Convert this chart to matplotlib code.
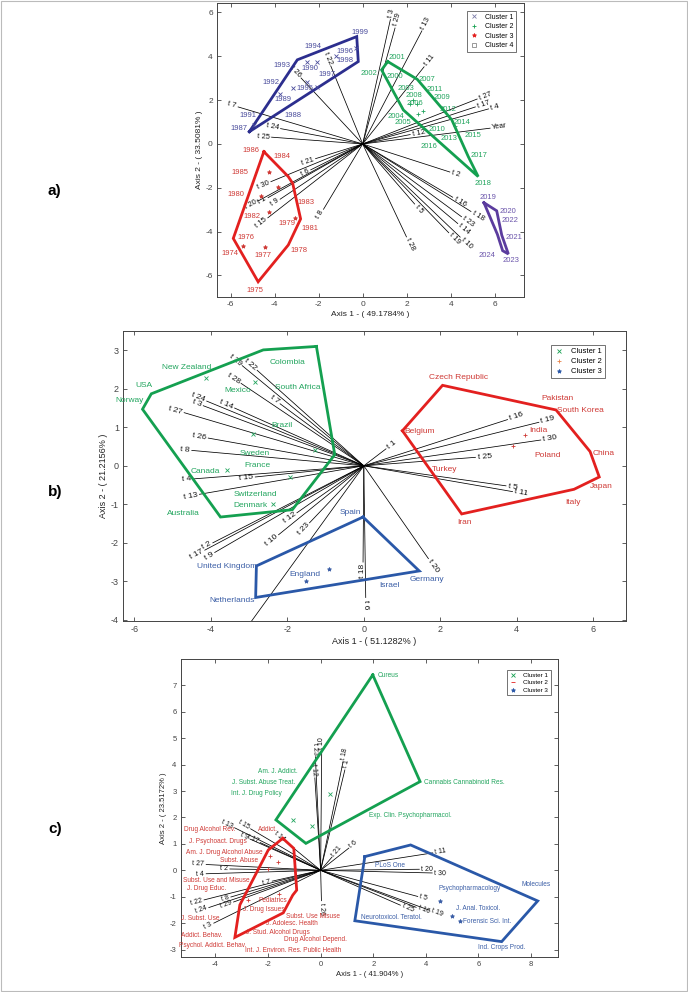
import matplotlib
matplotlib.use('Agg')
import matplotlib.pyplot as plt
from matplotlib.lines import Line2D
from matplotlib.patches import Rectangle
import numpy as np

plt.rcParams['font.family'] = ['Liberation Sans', 'DejaVu Sans']
plt.rcParams['axes.unicode_minus'] = False

#-----------------------------------------------------------------------------------------------------------------------
# Panel a) years
a_vec_names = ['t 7', 't 24', 't 25', 't 26', 't 22', 't 3', 't 29', 't 13', 't 11', 't 27', 't 17', 't 4', 'Year',
               't 12', 't 21', 't 6', 't 30', 't 20', 't 1', 't 9', 't 15', 't 8', 't 2', 't 16', 't 18', 't 5',
               't 23', 't 14', 't 19', 't 10', 't 28']
a_vec_x = [-5.66, -3.73, -4.14, -2.80, -1.45, 1.26, 1.47, 2.69, 2.79, 5.20, 5.12, 5.72, 5.79,
           2.16, -2.14, -2.36, -4.17, -4.75, -4.30, -3.75, -4.31, -1.78, 3.96, 4.09, 4.92, 2.36,
           4.49, 4.32, 3.91, 4.43, 1.99]
a_vec_y = [1.69, 0.70, 0.31, 3.01, 3.56, 5.68, 5.29, 5.16, 3.52, 2.05, 1.69, 1.60, 0.72,
           0.43, -0.67, -1.18, -1.72, -2.60, -2.45, -2.52, -3.37, -2.98, -1.28, -2.43, -3.08, -2.74,
           -3.32, -3.63, -4.05, -4.25, -4.24]

a_c1_names = ['1994', '1999', '1996', '1998', '1993', '1990', '1997', '1992', '1995', '1989', '1988', '1991', '1987']
a_c1_x = [-2.25, -0.12, -0.80, -0.80, -3.68, -2.40, -1.64, -4.18, -2.62, -3.64, -3.18, -5.23, -5.60]
a_c1_y = [4.47, 5.10, 4.21, 3.79, 3.59, 3.46, 3.16, 2.80, 2.54, 2.04, 1.32, 1.28, 0.72]
a_c1_px = [-2.55, -2.09, -3.15, -2.55, -2.09, -3.76, -0.30, -1.20, -4.95]
a_c1_py = [3.73, 3.73, 2.56, 2.84, 2.59, 2.28, 4.40, 4.00, 0.85]
a_c1_hull_x = [-5.15, -2.97, -0.27, -0.20]
a_c1_hull_y = [0.56, 3.84, 4.90, 3.76]

a_c2_names = ['2001', '2002', '2000', '2007', '2003', '2011', '2008', '2009', '2006', '2012', '2004', '2005', '2014',
              '2010', '2013', '2015', '2016', '2017', '2018']
a_c2_x = [1.55, 0.30, 1.47, 2.94, 1.97, 3.29, 2.33, 3.59, 2.38, 3.89, 1.51, 1.85, 4.50, 3.39, 3.94, 5.00, 3.03, 5.30, 5.45]
a_c2_y = [3.96, 3.20, 3.07, 2.95, 2.54, 2.47, 2.21, 2.10, 1.83, 1.58, 1.25, 0.97, 0.97, 0.67, 0.26, 0.37, -0.12, -0.53, -1.79]
a_c2_px = [2.15, 2.45, 2.53, 2.75, 2.30, 4.20]
a_c2_py = [1.83, 1.83, 1.37, 1.52, 2.00, 0.80]
a_c2_hull_x = [1.14, 2.48, 4.05, 4.80, 5.25, 1.85, 0.86]
a_c2_hull_y = [3.76, 2.95, 1.10, -0.58, -1.49, 1.55, 3.38]

a_c3_names = ['1986', '1984', '1985', '1980', '1983', '1982', '1979', '1981', '1976', '1974', '1977', '1978', '1975']
a_c3_x = [-5.09, -3.68, -5.58, -5.76, -2.58, -5.05, -3.45, -2.40, -5.30, -6.03, -4.55, -2.88, -4.90]
a_c3_y = [-0.32, -0.58, -1.29, -2.30, -2.66, -3.32, -3.62, -3.88, -4.28, -5.02, -5.07, -4.84, -6.67]
a_c3_px = [-4.27, -3.84, -4.64, -4.27, -3.08, -5.45, -4.43]
a_c3_py = [-1.29, -1.98, -2.36, -3.09, -3.36, -4.66, -4.72]
a_c3_hull_x = [-4.49, -3.38, -3.18, -2.82, -3.38, -4.75, -5.88]
a_c3_hull_y = [-0.35, -1.49, -1.80, -3.42, -4.61, -6.29, -4.31]

a_c4_names = ['2019', '2020', '2022', '2021', '2024', '2023']
a_c4_x = [5.71, 6.62, 6.70, 6.88, 5.66, 6.73]
a_c4_y = [-2.45, -3.09, -3.51, -4.26, -5.11, -5.34]
a_c4_hull_x = [5.51, 6.09, 6.32, 6.62, 6.36, 6.12, 5.51]
a_c4_hull_y = [-2.68, -3.05, -4.16, -5.02, -4.87, -4.12, -2.68]

#-----------------------------------------------------------------------------------------------------------------------
# Panel b) countries
b_vec_names = ['t 29', 't 22', 't 28', 't 7', 't 24', 't 14', 't 3', 't 27', 't 26', 't 8', 't 4', 't 15', 't 13',
               't 12', 't 23', 't 10', 't 2', 't 17', 't 9', 't 18', 't 6', 't 1', 't 16', 't 19', 't 30', 't 25',
               't 5', 't 11', 't 20', '']
b_vec_x = [-3.18, -2.79, -3.21, -2.19, -4.11, -3.38, -4.20, -4.70, -4.07, -4.50, -4.46, -2.84, -4.30,
           -1.75, -1.42, -2.23, -3.95, -4.16, -3.90, -0.02, 0.05, 0.58, 3.76, 4.58, 4.63, 2.92,
           3.72, 3.89, 1.69, -2.95]
b_vec_y = [2.60, 2.48, 2.14, 1.61, 1.68, 1.50, 1.56, 1.38, 0.72, 0.40, -0.34, -0.29, -0.74,
           -1.22, -1.48, -1.79, -2.00, -2.19, -2.25, -2.50, -3.42, 0.44, 1.20, 1.13, 0.67, 0.22,
           -0.52, -0.67, -2.41, -4.05]

b_c1_names = ['Colombia', 'New Zealand', 'USA', 'Norway', 'South Africa', 'Mexico', 'Brazil', 'Sweden', 'France',
              'Canada', 'Switzerland', 'Denmark', 'Australia']
b_c1_x = [-2.00, -4.64, -5.75, -6.13, -1.72, -3.29, -2.13, -2.85, -2.78, -4.14, -2.83, -2.97, -4.71]
b_c1_y = [2.69, 2.56, 2.09, 1.69, 2.04, 1.95, 1.04, 0.33, 0.00, -0.15, -0.74, -1.03, -1.25]
b_c1_px = [-4.12, -2.85, -2.90, -1.28, -3.57, -1.92, -2.37]
b_c1_py = [2.28, 2.17, 0.83, 0.42, -0.12, -0.28, -0.99]
b_c1_hull_x = [-1.24, -0.76, -1.87, -3.75, -5.79, -5.56, -2.63]
b_c1_hull_y = [3.10, 0.29, -1.14, -1.33, 1.47, 1.87, 3.01]

b_c2_names = ['Czech Republic', 'Pakistan', 'South Korea', 'Belgium', 'India', 'Poland', 'China', 'Turkey', 'Japan',
              'Italy', 'Iran']
b_c2_x = [2.47, 5.06, 5.67, 1.45, 4.56, 4.82, 6.27, 2.12, 6.22, 5.48, 2.64]
b_c2_y = [2.29, 1.74, 1.44, 0.89, 0.92, 0.26, 0.33, -0.10, -0.55, -0.94, -1.47]
b_c2_px = [4.21, 3.91]
b_c2_py = [0.81, 0.52]
b_c2_hull_x = [1.01, 2.06, 5.03, 5.92, 6.16, 5.50, 2.56]
b_c2_hull_y = [0.91, 2.09, 1.45, 0.37, -0.29, -0.61, -1.25]

b_c3_names = ['Spain', 'United Kingdom', 'England', 'Netherlands', 'Israel', 'Germany']
b_c3_x = [-0.34, -3.57, -1.54, -3.46, 0.66, 1.64]
b_c3_y = [-1.21, -2.62, -2.83, -3.50, -3.12, -2.94]
b_c3_px = [-0.91, -1.52]
b_c3_py = [-2.68, -2.98]
b_c3_hull_x = [-0.02, 1.45, -2.83, -2.81]
b_c3_hull_y = [-1.33, -2.73, -3.42, -2.60]

#-----------------------------------------------------------------------------------------------------------------------
# Panel c) journals
c_vec_names = ['t 10', 't 23', 't 12', 't 18', 't 1', 't 13', 't 15', 't 9', 't 17', 't 14', 't 21', 't 6', 't 27',
               't 2', 't 4', 't 7', 't 8', 't 29', 't 22', 't 24', 't 3', 't 26', 't 11', 't 20', 't 30', 't 5',
               't 25', 't 16', 't 19']
c_vec_x = [0.04, -0.20, -0.22, 0.85, 0.92, -3.27, -2.66, -2.68, -2.30, -1.32, 0.43, 1.07, -4.35,
           -3.45, -4.35, -1.84, -3.41, -3.31, -4.43, -4.25, -4.06, 0.03, 4.26, 3.75, 4.24, 3.69,
           3.03, 3.63, 4.13]
c_vec_y = [4.50, 4.30, 3.50, 4.10, 3.80, 1.61, 1.57, 1.18, 1.05, 1.08, 0.50, 0.84, 0.22,
           0.05, -0.13, -0.41, -1.01, -1.20, -1.12, -1.41, -2.00, -1.15, 0.66, 0.04, -0.10, -0.99,
           -1.32, -1.40, -1.51]

c_c1_names = ['Am. J. Addict.', 'J. Subst. Abuse Treat.', 'Int. J. Drug Policy', 'Exp. Clin. Psychopharmacol.']
c_c1_x = [-1.61, -2.16, -2.46, 3.40]
c_c1_y = [3.76, 3.32, 2.89, 2.09]
c_c1_px = [0.35, -1.04, -0.34]
c_c1_py = [2.89, 1.91, 1.68]
c_c1_hull_x = [1.98, 3.78, -0.56, -1.70]
c_c1_hull_y = [7.40, 3.36, 1.02, 1.91]
c_c1_side_names = ['Cureus', 'Cannabis Cannabinoid Res.']
c_c1_side_x = [2.15, 3.94]
c_c1_side_y = [7.37, 3.32]

c_c2_names = ['Drug Alcohol Rev.', 'Addict.', 'J. Psychoact. Drugs', 'Am. J. Drug Alcohol Abuse', 'Subst. Abuse',
              'Subst. Use and Misuse', 'J. Drug Educ.', 'Pediatrics', 'J. Drug Issues', 'Subst. Use Misuse',
              'J. Subst. Use', 'J. Adolesc. Health', 'J. Stud. Alcohol Drugs', 'Addict. Behav.',
              'Drug Alcohol Depend.', 'Psychol. Addict. Behav.', 'Int. J. Environ. Res. Public Health']
c_c2_x = [-4.21, -2.02, -3.89, -3.67, -3.09, -3.98, -4.33, -1.83, -2.18, -0.30, -4.59, -1.10, -1.61, -4.52,
          -0.18, -4.12, -1.04]
c_c2_y = [1.53, 1.55, 1.08, 0.68, 0.38, -0.39, -0.68, -1.13, -1.47, -1.76, -1.82, -2.01, -2.34, -2.45,
          -2.61, -2.86, -3.05]
c_c2_px = [-1.93, -1.61, -1.99, -1.60, -2.75]
c_c2_py = [0.55, 0.33, 0.04, -0.90, -1.13]
c_c2_hull_x = [-1.44, -1.02, -0.91, -1.06, -1.42, -3.26, -3.07, -1.99]
c_c2_hull_y = [1.21, 0.83, -0.75, -0.94, -1.61, -2.54, -1.31, 0.77]

c_c3_names = ['PLoS One', 'Molecules', 'Psychopharmacology', 'J. Anal. Toxicol.', 'Neurotoxicol. Teratol.',
              'Forensic Sci. Int.', 'Ind. Crops Prod.']
c_c3_x = [2.63, 8.19, 5.68, 5.99, 2.70, 6.33, 6.88]
c_c3_y = [0.17, -0.52, -0.68, -1.44, -1.78, -1.95, -2.92]
c_c3_px = [4.54, 4.98, 5.30]
c_c3_py = [-1.15, -1.74, -1.91]
c_c3_hull_x = [1.68, 3.42, 8.25, 6.88, 1.30]
c_c3_hull_y = [0.52, 0.96, -1.16, -2.70, -1.91]

#-----------------------------------------------------------------------------------------------------------------------
GREEN = '#14a050'
GREEN_T = '#22a55e'
RED = '#e3201f'
RED_T = '#cf3a36'
NAVY = '#2c2e8e'
NAVY_T = '#4a4c9c'
PURPLE = '#5b3c9e'
PURPLE_T = '#6b55ab'
BLUE = '#2a58a8'
BLUE_T = '#3b5ea6'
FRAME = '#444444'


def setup_axes(pos, xlim, ylim, xticks, yticks, xlabel, ylabel, fs):
    ax = fig.add_axes(pos)
    ax.set_xlim(xlim)
    ax.set_ylim(ylim)
    ax.set_xticks(xticks)
    ax.set_yticks(yticks)
    ax.tick_params(direction='in', top=True, right=True, length=3, width=0.6,
                   labelsize=fs, colors=FRAME, pad=3)
    for s in ax.spines.values():
        s.set_linewidth(0.7)
        s.set_color(FRAME)
    ax.set_xlabel(xlabel, fontsize=fs, color='#222222', labelpad=2)
    ax.set_ylabel(ylabel, fontsize=fs, color='#222222', labelpad=2)
    return ax


def draw_vectors(ax, names, xs, ys, fs):
    for name, x, y in zip(names, xs, ys):
        ax.plot([0, x], [0, y], color='black', lw=0.55, zorder=2)
        if not name:
            continue
        p0 = ax.transData.transform((0, 0))
        p1 = ax.transData.transform((x, y))
        ang = np.degrees(np.arctan2(p1[1] - p0[1], p1[0] - p0[0]))
        if ang > 90:
            rot, ha = ang - 180, 'right'
        elif ang < -90:
            rot, ha = ang + 180, 'right'
        else:
            rot, ha = ang, 'left'
        off = (1.5 * np.cos(np.radians(ang)), 1.5 * np.sin(np.radians(ang)))
        ax.annotate(name, xy=(x, y), xytext=off, textcoords='offset points', rotation=rot,
                    rotation_mode='anchor', ha=ha, va='center', fontsize=fs, color='#111111', zorder=3)


def draw_cluster(ax, names, xs, ys, px, py, hx, hy, col, tcol, marker, fs, msize=3):
    ax.plot(list(hx) + [hx[0]], list(hy) + [hy[0]], color=col, lw=2.0, zorder=4, solid_joinstyle='miter')
    if len(px):
        ax.plot(px, py, ls='none', marker=marker, color=tcol, ms=msize, mew=0.6, zorder=5)
    for n, x, y in zip(names, xs, ys):
        ax.text(x, y, n, fontsize=fs, color=tcol, ha='center', va='center', zorder=6)


def add_legend(ax, entries, fs, loc_anchor):
    handles = [Line2D([], [], ls='none', marker=m, color=c, ms=3, mew=0.6, mfc=mf) for m, c, mf in entries[1]]
    leg = ax.legend(handles, entries[0], loc='upper right', bbox_to_anchor=loc_anchor, fontsize=fs,
                    frameon=True, fancybox=False, edgecolor='#333333', handlelength=1.2, handletextpad=1.0,
                    borderpad=0.4, labelspacing=0.35)
    leg.get_frame().set_linewidth(0.6)
    return leg


fig = plt.figure(figsize=(6.88, 9.92), dpi=100)
fig.patches.append(Rectangle((0.001, 0.001), 0.998, 0.998, transform=fig.transFigure, fill=False,
                             edgecolor='#bbbbbb', lw=0.8))

# a)
ax = setup_axes([0.3154, 0.7009, 0.4462, 0.2958], (-6.62, 7.33), (-6.97, 6.42),
                np.arange(-6, 7, 2), np.arange(-6, 7, 2),
                'Axis 1 - ( 49.1784% )', 'Axis 2 - ( 33.5081% )', 6)
draw_vectors(ax, a_vec_names, a_vec_x, a_vec_y, 5.5)
draw_cluster(ax, a_c1_names, a_c1_x, a_c1_y, a_c1_px, a_c1_py, a_c1_hull_x, a_c1_hull_y, NAVY, NAVY_T, 'x', 5.5)
draw_cluster(ax, a_c2_names, a_c2_x, a_c2_y, a_c2_px, a_c2_py, a_c2_hull_x, a_c2_hull_y, GREEN, GREEN_T, '+', 5.5)
draw_cluster(ax, a_c3_names, a_c3_x, a_c3_y, a_c3_px, a_c3_py, a_c3_hull_x, a_c3_hull_y, RED, RED_T, '*', 5.5)
draw_cluster(ax, a_c4_names, a_c4_x, a_c4_y, [], [], a_c4_hull_x, a_c4_hull_y, PURPLE, PURPLE_T, 's', 5.5)
add_legend(ax, (['Cluster 1', 'Cluster 2', 'Cluster 3', 'Cluster 4'],
                [('x', '#7a7aa8', '#7a7aa8'), ('+', GREEN, GREEN), ('*', RED, RED), ('s', '#888888', 'none')]),
           5, (0.985, 0.985))

# b)
ax = setup_axes([0.1788, 0.3740, 0.7311, 0.2923], (-6.3, 6.86), (-4.03, 3.5),
                np.arange(-6, 7, 2), np.arange(-4, 4, 1),
                'Axis 1 - ( 51.1282% )', 'Axis 2 - ( 21.2156% )', 6.5)
draw_vectors(ax, b_vec_names, b_vec_x, b_vec_y, 6)
draw_cluster(ax, b_c1_names, b_c1_x, b_c1_y, b_c1_px, b_c1_py, b_c1_hull_x, b_c1_hull_y, GREEN, GREEN_T, 'x', 6)
draw_cluster(ax, b_c2_names, b_c2_x, b_c2_y, b_c2_px, b_c2_py, b_c2_hull_x, b_c2_hull_y, RED, RED_T, '+', 6)
draw_cluster(ax, b_c3_names, b_c3_x, b_c3_y, b_c3_px, b_c3_py, b_c3_hull_x, b_c3_hull_y, BLUE, BLUE_T, '*', 6)
add_legend(ax, (['Cluster 1', 'Cluster 2', 'Cluster 3'],
                [('x', GREEN, GREEN), ('+', '#e8834a', '#e8834a'), ('*', BLUE, BLUE)]),
           5.5, (0.965, 0.965))

# c)
ax = setup_axes([0.2626, 0.0356, 0.5480, 0.2998], (-5.32, 9.01), (-3.27, 7.99),
                np.arange(-4, 9, 2), np.arange(-3, 8, 1),
                'Axis 1 - ( 41.904% )', 'Axis 2 - ( 23.5172% )', 5.5)
draw_vectors(ax, c_vec_names, c_vec_x, c_vec_y, 5)
draw_cluster(ax, c_c1_names, c_c1_x, c_c1_y, c_c1_px, c_c1_py, c_c1_hull_x, c_c1_hull_y, GREEN, GREEN_T, 'x', 4.7)
for n, x, y in zip(c_c1_side_names, c_c1_side_x, c_c1_side_y):
    ax.text(x, y, n, fontsize=4.7, color=GREEN_T, ha='left', va='center', zorder=6)
draw_cluster(ax, c_c2_names, c_c2_x, c_c2_y, c_c2_px, c_c2_py, c_c2_hull_x, c_c2_hull_y, RED, RED_T, '+', 4.7)
draw_cluster(ax, c_c3_names, c_c3_x, c_c3_y, c_c3_px, c_c3_py, c_c3_hull_x, c_c3_hull_y, BLUE, BLUE_T, '*', 4.7)
add_legend(ax, (['Cluster 1', 'Cluster 2', 'Cluster 3'],
                [('x', GREEN, GREEN), ('_', RED, RED), ('*', BLUE, BLUE)]),
           4.5, (0.99, 0.975))

for lab, yy in [('a)', 191), ('b)', 492), ('c)', 829)]:
    fig.text(48 / 688, 1 - yy / 992, lab, fontsize=11, fontweight='bold', ha='left', va='center')

fig.savefig('out.png', dpi=100)
